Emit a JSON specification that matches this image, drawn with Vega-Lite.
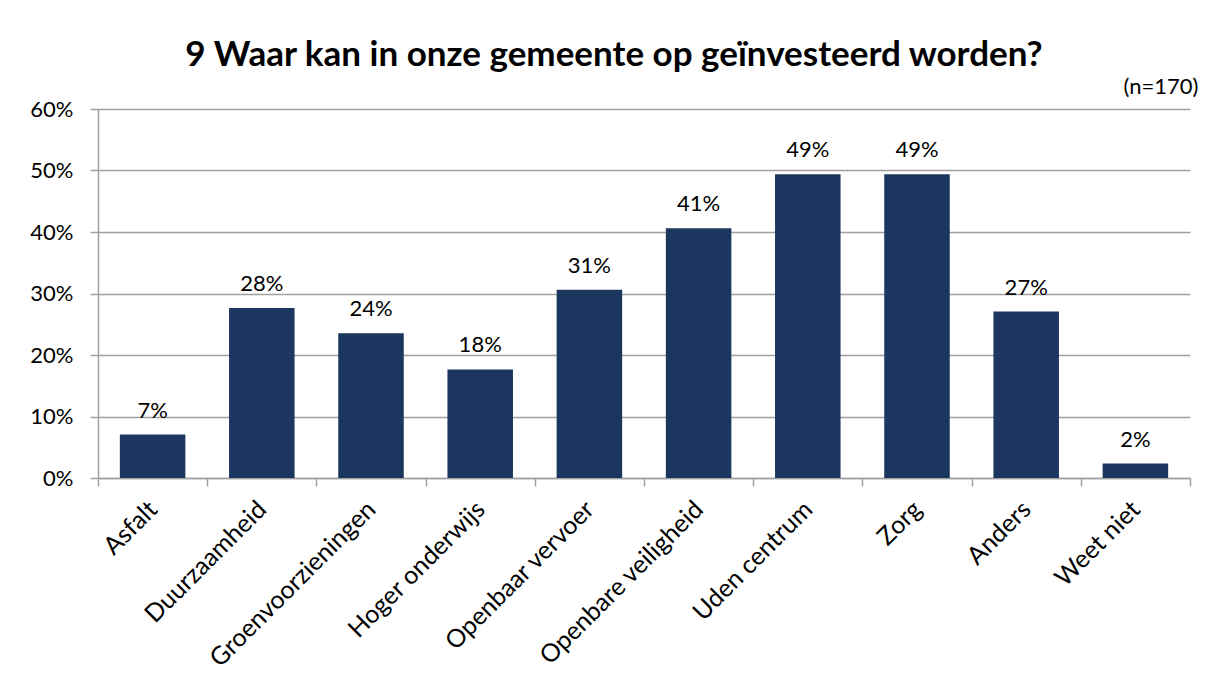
{
  "$schema": "https://vega.github.io/schema/vega-lite/v6.json",
  "width": 1092,
  "height": 369,
  "autosize": {"type": "none"},
  "padding": {"left": 98, "top": 109, "right": 19, "bottom": 205},
  "background": "white",
  "config": {
    "font": "Lato",
    "view": {"stroke": null},
    "axis": {"labelFont": "Lato", "labelColor": "#000000", "labelFontSize": 22, "domainColor": "#a0a0a0", "tickColor": "#a0a0a0", "gridColor": "#a0a0a0", "domainWidth": 1.5, "tickWidth": 1.5, "gridWidth": 1.5}
  },
  "title": {
    "text": "9 Waar kan in onze gemeente op geïnvesteerd worden?",
    "font": "Lato",
    "fontSize": 35,
    "fontWeight": "bold",
    "color": "#000000",
    "anchor": "middle",
    "frame": "group",
    "baseline": "alphabetic",
    "offset": 43,
    "dy": 69,
    "dx": -30
  },
  "data": {
    "values": [
      {"categorie": "Asfalt", "pct": 0.0706},
      {"categorie": "Duurzaamheid", "pct": 0.2765},
      {"categorie": "Groenvoorzieningen", "pct": 0.2353},
      {"categorie": "Hoger onderwijs", "pct": 0.1765},
      {"categorie": "Openbaar vervoer", "pct": 0.3059},
      {"categorie": "Openbare veiligheid", "pct": 0.4059},
      {"categorie": "Uden centrum", "pct": 0.4941},
      {"categorie": "Zorg", "pct": 0.4941},
      {"categorie": "Anders", "pct": 0.2706},
      {"categorie": "Weet niet", "pct": 0.0235}
    ]
  },
  "encoding": {
    "x": {
      "field": "categorie",
      "type": "nominal",
      "sort": null,
      "scale": {"paddingInner": 0, "paddingOuter": 0},
      "axis": {"title": null, "labelAngle": -45, "labelAlign": "right", "labelBaseline": "middle", "labelFontSize": 25, "labelPadding": 19, "labelLimit": 500, "tickBand": "extent", "tickSize": 8, "grid": false}
    },
    "y": {
      "field": "pct",
      "type": "quantitative",
      "scale": {"domain": [0, 0.6], "nice": false},
      "axis": {"values": [0, 0.1, 0.2, 0.3, 0.4, 0.5, 0.6], "format": ".0%", "tickSize": 8, "labelPadding": 17, "grid": true, "title": "(n=170)", "titleAngle": 0, "titleAlign": "right", "titleBaseline": "alphabetic", "titleX": 1100, "titleY": -16, "titleFont": "Lato", "titleFontSize": 22, "titleFontWeight": "normal", "titleColor": "#000000"}
    }
  },
  "layer": [
    {"mark": {"type": "bar", "color": "#1b3760", "width": {"band": 0.6}}},
    {
      "mark": {"type": "text", "font": "Lato", "fontSize": 22, "color": "#000000", "baseline": "alphabetic", "dy": -17},
      "encoding": {"text": {"field": "pct", "type": "quantitative", "format": ".0%"}}
    }
  ]
}
